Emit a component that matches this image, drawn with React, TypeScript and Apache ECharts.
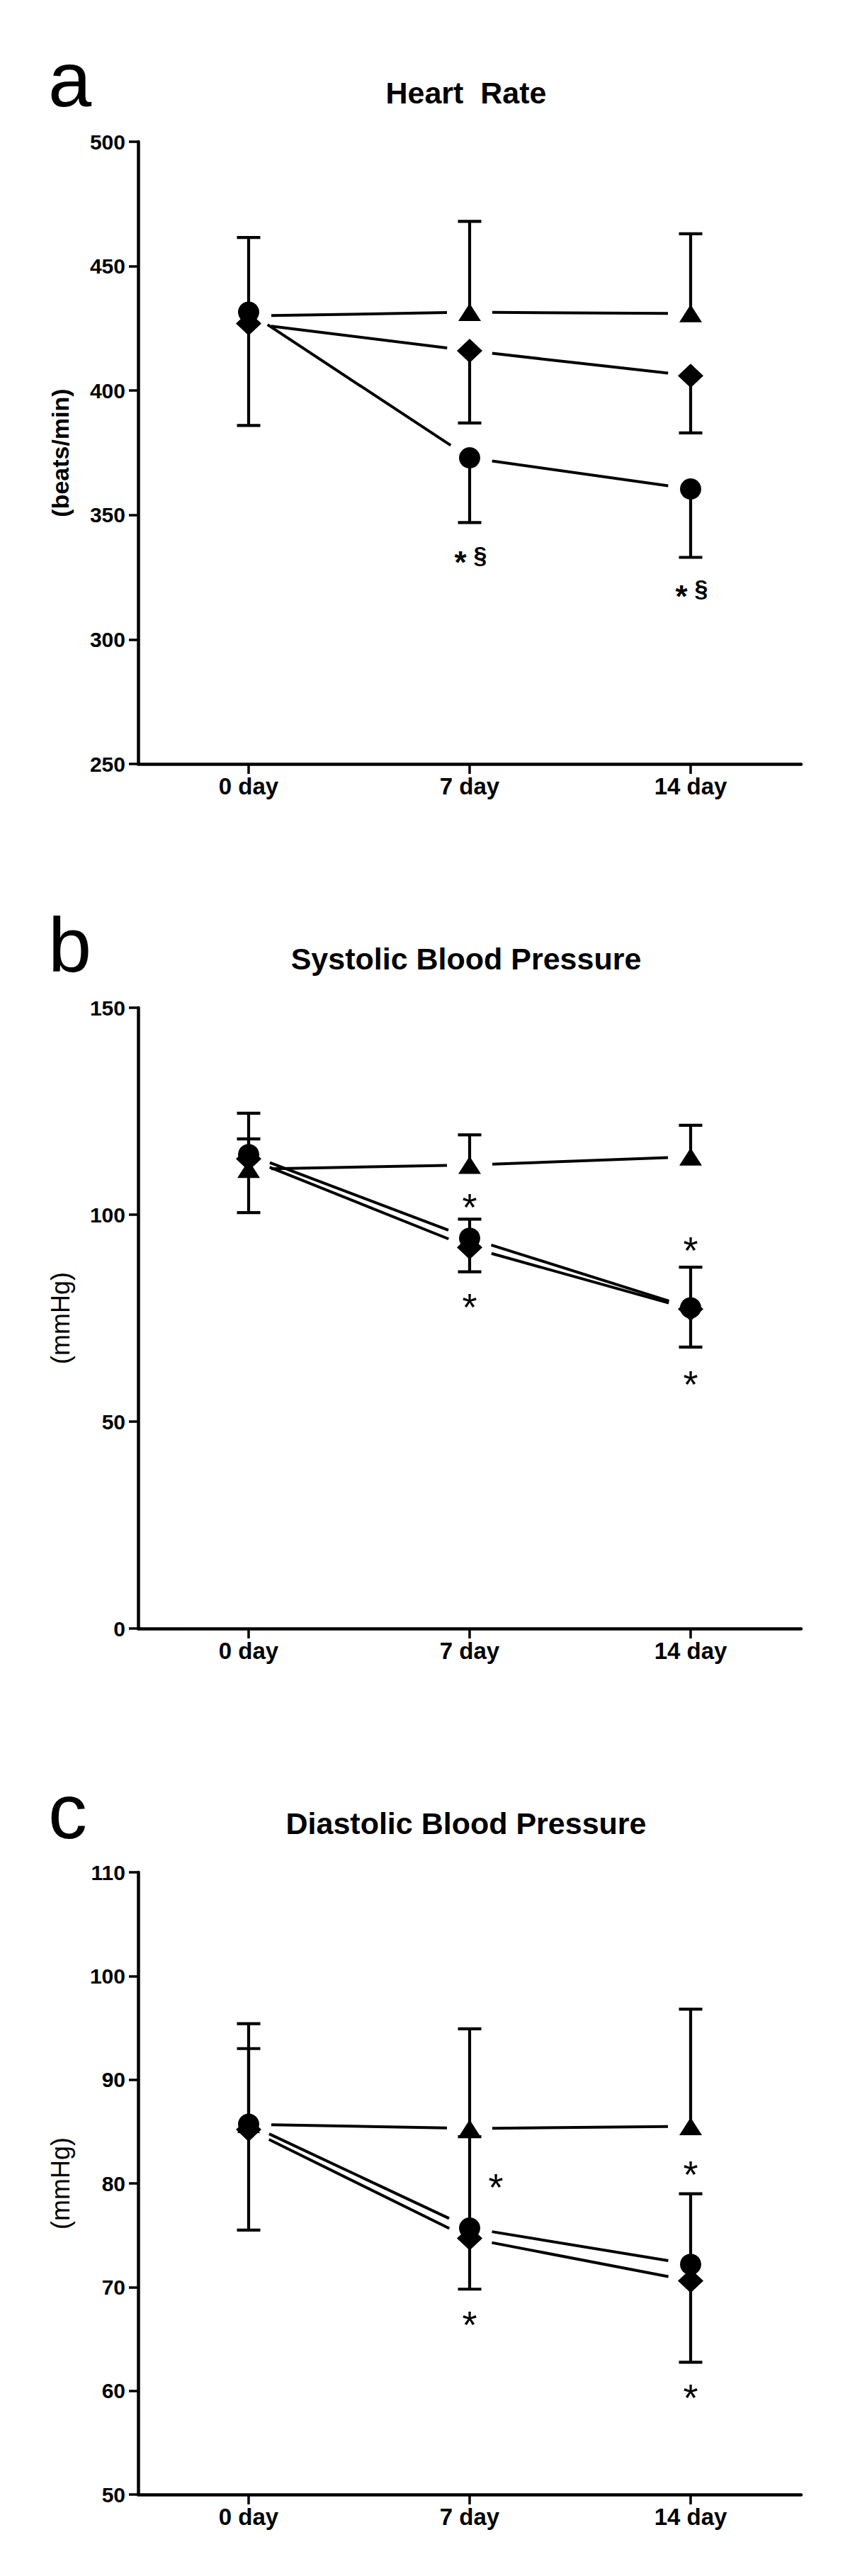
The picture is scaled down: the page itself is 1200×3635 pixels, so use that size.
import React, { useEffect, useRef } from "react";
import * as echarts from "echarts";

// ---------- Data ----------
const CATEGORIES = ["0 day", "7 day", "14 day"];

// a: Heart Rate (beats/min)
const HR_TRIANGLE = [430, 431.5, 431];
const HR_TRIANGLE_SD_HIGH = [461.5, 468, 463];
const HR_DIAMOND = [427, 416, 406];
const HR_DIAMOND_SD_LOW = [null, 387, 383];
const HR_CIRCLE = [431.5, 373, 360.5];
const HR_CIRCLE_SD_LOW = [386, 347, 333];
const HR_MARKS: [number, number, string][] = [
  [1, 333.5, "*§"],
  [2, 320, "*§"],
];
const HR_TICKS = { min: 250, max: 500, interval: 50 };

// b: Systolic Blood Pressure (mmHg)
const SBP_TRIANGLE = [111, 112, 114];
const SBP_TRIANGLE_SD_HIGH = [124.5, 119.3, 121.6];
const SBP_CIRCLE = [114.5, 94.3, 77.5];
const SBP_CIRCLE_SD_HIGH = [118.3, 98.9, 87.3];
const SBP_DIAMOND = [113.5, 92.1, 77.2];
const SBP_DIAMOND_SD_LOW = [100.5, 86.2, 68.0];
const SBP_MARKS: [number, number, string][] = [
  [1, 104, "*"],
  [1, 79.8, "*"],
  [2, 93.5, "*"],
  [2, 61.2, "*"],
];
const SBP_TICKS = { min: 0, max: 150, interval: 50 };

// c: Diastolic Blood Pressure (mmHg)
const DBP_TRIANGLE = [85.7, 85.3, 85.5];
const DBP_TRIANGLE_SD_HIGH = [95.4, 94.9, 96.8];
const DBP_CIRCLE = [85.7, 75.7, 72.2];
const DBP_CIRCLE_SD_HIGH = [93.0, 84.5, 79.0];
const DBP_DIAMOND = [85.2, 74.7, 70.6];
const DBP_DIAMOND_SD_LOW = [75.5, 69.8, 62.75];
const DBP_MARKS: [number, number, string][] = [
  [1, 80.5, "*"],
  [1, 67.2, "*"],
  [2, 81.7, "*"],
  [2, 60.2, "*"],
];
const DBP_MARK_RIGHT = [true, false, false, false];
const DBP_TICKS = { min: 50, max: 110, interval: 10 };

// ---------- Styling ----------
const FONT = "'Liberation Sans', Arial, Helvetica, sans-serif";
const GAP = 32;
const LINE_W = 4;
const ERR_W = 4.2;
const CAP_HALF = 16.5;

type Group = {
  values: number[];
  high?: (number | null)[];
  low?: (number | null)[];
  symbol: string;
  size: number | number[];
};

type Panel = {
  letter: string;
  letterY: number;
  title: string;
  titleY: number;
  yName: string;
  yNameBold: boolean;
  top: number;
  height: number;
  ticks: { min: number; max: number; interval: number };
  groups: Group[];
  marks: [number, number, string][];
  markRight?: boolean[];
  markBold: boolean;
};

const TRI = { symbol: "triangle", size: [32, 25] };
const DIA = { symbol: "diamond", size: [36, 34] };
const CIR = { symbol: "circle", size: 30 };

const PANELS: Panel[] = [
  {
    letter: "a",
    letterY: 166,
    title: "Heart  Rate",
    titleY: 131,
    yName: "(beats/min)",
    yNameBold: true,
    top: 200,
    height: 878,
    ticks: HR_TICKS,
    groups: [
      { values: HR_TRIANGLE, high: HR_TRIANGLE_SD_HIGH, ...TRI },
      { values: HR_DIAMOND, low: HR_DIAMOND_SD_LOW, ...DIA },
      { values: HR_CIRCLE, low: HR_CIRCLE_SD_LOW, ...CIR },
    ],
    marks: HR_MARKS,
    markBold: true,
  },
  {
    letter: "b",
    letterY: 1387,
    title: "Systolic Blood Pressure",
    titleY: 1353,
    yName: "(mmHg)",
    yNameBold: false,
    top: 1422,
    height: 876,
    ticks: SBP_TICKS,
    groups: [
      { values: SBP_TRIANGLE, high: SBP_TRIANGLE_SD_HIGH, ...TRI },
      { values: SBP_CIRCLE, high: SBP_CIRCLE_SD_HIGH, ...CIR },
      { values: SBP_DIAMOND, low: SBP_DIAMOND_SD_LOW, ...DIA },
    ],
    marks: SBP_MARKS,
    markBold: false,
  },
  {
    letter: "c",
    letterY: 2610,
    title: "Diastolic Blood Pressure",
    titleY: 2573,
    yName: "(mmHg)",
    yNameBold: false,
    top: 2642,
    height: 878,
    ticks: DBP_TICKS,
    groups: [
      { values: DBP_TRIANGLE, high: DBP_TRIANGLE_SD_HIGH, ...TRI },
      { values: DBP_CIRCLE, high: DBP_CIRCLE_SD_HIGH, ...CIR },
      { values: DBP_DIAMOND, low: DBP_DIAMOND_SD_LOW, ...DIA },
    ],
    marks: DBP_MARKS,
    markRight: DBP_MARK_RIGHT,
    markBold: false,
  },
];

const GRID_LEFT = 195;
const GRID_WIDTH = 936;

function textStyle(text: string, font: string, align: string, vAlign: string) {
  return {
    text,
    font,
    fill: "#000",
    textAlign: align,
    textVerticalAlign: vAlign,
    align,
    verticalAlign: vAlign,
  };
}

function buildOption() {
  const grid: any[] = [];
  const xAxis: any[] = [];
  const yAxis: any[] = [];
  const series: any[] = [];
  const graphic: any[] = [];

  PANELS.forEach((p, g) => {
    grid.push({ left: GRID_LEFT, width: GRID_WIDTH, top: p.top, height: p.height });
    xAxis.push({
      type: "category",
      gridIndex: g,
      data: CATEGORIES,
      boundaryGap: true,
      axisLine: { show: true, lineStyle: { color: "#000", width: 4.5 } },
      axisTick: { show: true, alignWithLabel: true, length: 14, lineStyle: { color: "#000", width: 3.5 } },
      axisLabel: { color: "#000", fontSize: 33, fontWeight: "bold", fontFamily: FONT, margin: 15 },
      splitLine: { show: false },
    });
    yAxis.push({
      type: "value",
      gridIndex: g,
      min: p.ticks.min,
      max: p.ticks.max,
      interval: p.ticks.interval,
      axisLine: { show: true, lineStyle: { color: "#000", width: 4.5 } },
      axisTick: { show: true, length: 13, lineStyle: { color: "#000", width: 3.5 } },
      axisLabel: { color: "#000", fontSize: 30, fontWeight: "bold", fontFamily: FONT, margin: 18 },
      splitLine: { show: false },
    });

    // connecting lines with gaps around the symbols
    const segs: number[][] = [];
    p.groups.forEach((gr) => {
      for (let i = 0; i < gr.values.length - 1; i++) {
        segs.push([i, gr.values[i], i + 1, gr.values[i + 1]]);
      }
    });
    series.push({
      type: "custom",
      xAxisIndex: g,
      yAxisIndex: g,
      data: segs,
      encode: { x: [0, 2], y: [1, 3] },
      silent: true,
      z: 2,
      renderItem: (_params: any, api: any) => {
        const a = api.coord([api.value(0), api.value(1)]);
        const b = api.coord([api.value(2), api.value(3)]);
        const dx = b[0] - a[0];
        const dy = b[1] - a[1];
        const len = Math.sqrt(dx * dx + dy * dy) || 1;
        const ux = dx / len;
        const uy = dy / len;
        return {
          type: "line",
          shape: {
            x1: a[0] + ux * GAP,
            y1: a[1] + uy * GAP,
            x2: b[0] - ux * GAP,
            y2: b[1] - uy * GAP,
          },
          style: { stroke: "#000", lineWidth: LINE_W, fill: null },
        };
      },
    });

    // error bars
    const errs: number[][] = [];
    p.groups.forEach((gr) => {
      gr.values.forEach((v, i) => {
        if (gr.high && gr.high[i] != null) errs.push([i, v, gr.high[i] as number]);
        if (gr.low && gr.low[i] != null) errs.push([i, v, gr.low[i] as number]);
      });
    });
    series.push({
      type: "custom",
      xAxisIndex: g,
      yAxisIndex: g,
      data: errs,
      encode: { x: 0, y: [1, 2] },
      silent: true,
      z: 3,
      renderItem: (_params: any, api: any) => {
        const a = api.coord([api.value(0), api.value(1)]);
        const b = api.coord([api.value(0), api.value(2)]);
        return {
          type: "group",
          children: [
            {
              type: "line",
              shape: { x1: a[0], y1: a[1], x2: b[0], y2: b[1] },
              style: { stroke: "#000", lineWidth: ERR_W, fill: null },
            },
            {
              type: "line",
              shape: { x1: b[0] - CAP_HALF, y1: b[1], x2: b[0] + CAP_HALF, y2: b[1] },
              style: { stroke: "#000", lineWidth: ERR_W, fill: null },
            },
          ],
        };
      },
    });

    // symbols
    p.groups.forEach((gr) => {
      series.push({
        type: "scatter",
        xAxisIndex: g,
        yAxisIndex: g,
        data: gr.values,
        symbol: gr.symbol,
        symbolSize: gr.size,
        itemStyle: { color: "#000", opacity: 1 },
        silent: true,
        z: 4,
      });
    });

    // significance marks
    const marks = p.marks;
    const right = p.markRight;
    const bold = p.markBold;
    series.push({
      type: "custom",
      xAxisIndex: g,
      yAxisIndex: g,
      data: marks.map((m) => [m[0], m[1]]),
      encode: { x: 0, y: 1 },
      silent: true,
      z: 5,
      renderItem: (params: any, api: any) => {
        const idx = params.dataIndex;
        const m = marks[idx];
        const pt = api.coord([api.value(0), api.value(1)]);
        let x = pt[0];
        const y = pt[1];
        if (right && right[idx]) x += 37;
        if (m[2] === "*§") {
          return {
            type: "group",
            children: [
              {
                type: "text",
                x: x - 13,
                y: y + 9,
                style: textStyle("*", `bold 44px ${FONT}`, "center", "middle"),
              },
              {
                type: "text",
                x: x + 15,
                y: y - 2,
                style: textStyle("§", `bold 34px ${FONT}`, "center", "middle"),
              },
            ],
          };
        }
        return {
          type: "text",
          x,
          y: y + 12,
          style: textStyle("*", `${bold ? "bold " : ""}54px ${FONT}`, "center", "middle"),
        };
      },
    });

    // titles, letters, y names
    graphic.push({
      type: "text",
      x: 68,
      y: p.letterY,
      style: textStyle(p.letter, `110px ${FONT}`, "left", "bottom"),
    });
    graphic.push({
      type: "text",
      x: 658,
      y: p.titleY,
      style: textStyle(p.title, `bold 43px ${FONT}`, "center", "middle"),
    });
    graphic.push({
      type: "text",
      x: 85,
      y: p.top + p.height / 2,
      rotation: Math.PI / 2,
      style: textStyle(p.yName, `${p.yNameBold ? "bold 34px" : "36px"} ${FONT}`, "center", "middle"),
    });
  });

  return {
    animation: false,
    backgroundColor: "#fff",
    grid,
    xAxis,
    yAxis,
    series,
    graphic,
  };
}

export default function App() {
  const ref = useRef<HTMLDivElement>(null);
  useEffect(() => {
    if (!ref.current) return;
    const chart = echarts.init(ref.current, undefined, { renderer: "svg" });
    chart.setOption(buildOption() as any);
    return () => chart.dispose();
  }, []);
  return (
    <div
      ref={ref}
      style={{ position: "absolute", left: 0, top: 0, width: 1200, height: 3635, background: "#fff" }}
    />
  );
}
